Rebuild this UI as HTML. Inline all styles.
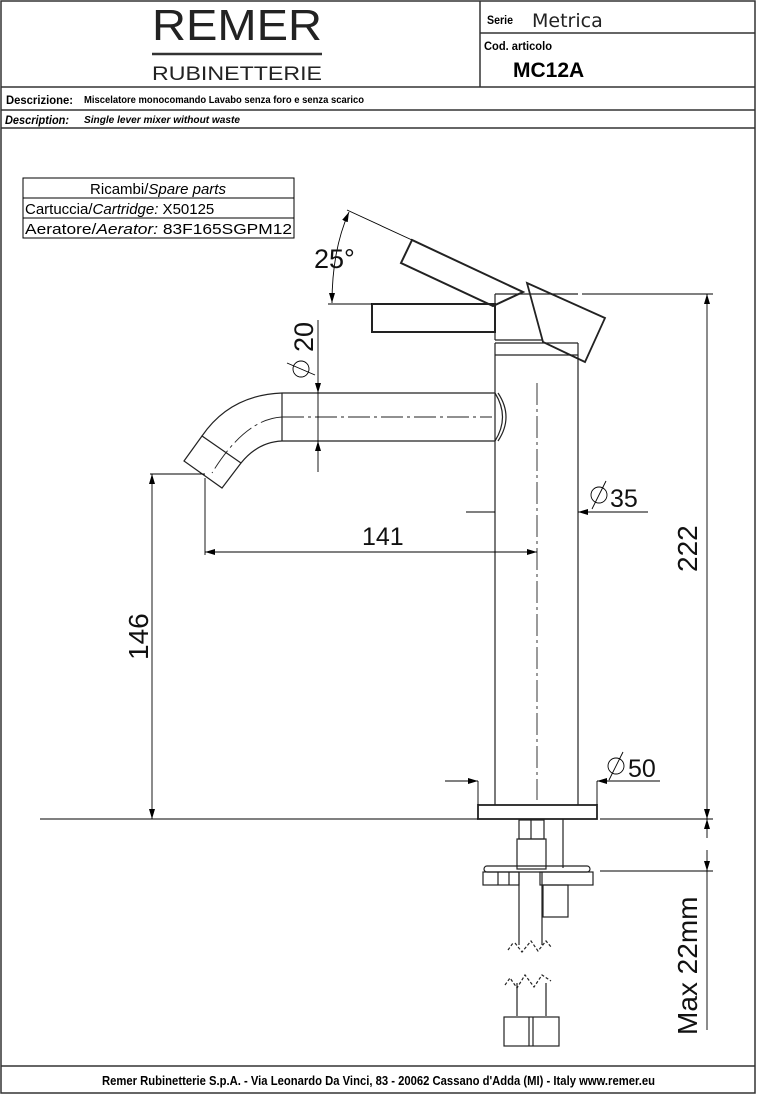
<!DOCTYPE html>
<html><head><meta charset="utf-8"><style>
html,body{margin:0;padding:0;background:#fff}
svg{display:block}
.n{font-family:"Liberation Sans",sans-serif;font-weight:bold}
.d{font-family:"Liberation Sans",sans-serif;}
</style></head><body>
<svg width="758" height="1095" viewBox="0 0 758 1095" xmlns="http://www.w3.org/2000/svg">
<defs>
<marker id="a" viewBox="0 0 10 6" refX="10" refY="3" markerWidth="10" markerHeight="6" orient="auto-start-reverse" markerUnits="userSpaceOnUse"><path d="M0,0 L10,3 L0,6 z" fill="#000"/></marker>
</defs>
<g fill="none" stroke="#333" stroke-width="1.5">
<rect x="1" y="1" width="754" height="1092"/>
<line x1="480" y1="1" x2="480" y2="87"/>
<line x1="480" y1="33" x2="755" y2="33"/>
<line x1="1" y1="87" x2="755" y2="87"/>
<line x1="1" y1="110" x2="755" y2="110"/>
<line x1="1" y1="128" x2="755" y2="128"/>
<line x1="1" y1="1066" x2="755" y2="1066"/>
<line x1="152" y1="54" x2="322" y2="54" stroke-width="2.5"/>
</g>
<text x="152" y="40" textLength="170" lengthAdjust="spacingAndGlyphs" font-family="Liberation Sans,sans-serif" font-size="44" fill="#222">REMER</text>
<text x="152" y="80" textLength="170" lengthAdjust="spacingAndGlyphs" font-family="Liberation Sans,sans-serif" font-size="19" fill="#222">RUBINETTERIE</text>
<text x="487" y="24" class="n" font-size="12" textLength="26" lengthAdjust="spacingAndGlyphs">Serie</text>
<text x="532" y="27" font-family="DejaVu Sans,sans-serif" font-size="19" fill="#222">Metrica</text>
<text x="484" y="50" class="n" font-size="12" textLength="68" lengthAdjust="spacingAndGlyphs">Cod. articolo</text>
<text x="513" y="77" font-family="Liberation Sans,sans-serif" font-weight="bold" font-size="21">MC12A</text>
<text x="6" y="104" class="n" font-size="12" textLength="67" lengthAdjust="spacingAndGlyphs">Descrizione:</text>
<text x="84" y="103" class="n" font-size="10" textLength="280" lengthAdjust="spacingAndGlyphs">Miscelatore monocomando Lavabo senza foro e senza scarico</text>
<text x="5" y="124" class="n" font-size="12" font-style="italic" textLength="64" lengthAdjust="spacingAndGlyphs">Description:</text>
<text x="84" y="123" class="n" font-size="10" font-style="italic" textLength="156" lengthAdjust="spacingAndGlyphs">Single lever mixer without waste</text>
<text x="102" y="1085" class="n" font-size="13" textLength="553" lengthAdjust="spacingAndGlyphs">Remer Rubinetterie S.p.A. - Via Leonardo Da Vinci, 83 - 20062 Cassano d'Adda (MI) - Italy www.remer.eu</text>

<g fill="none" stroke="#000" stroke-width="1">
<rect x="23" y="178" width="271" height="60"/>
<line x1="23" y1="198" x2="294" y2="198"/>
<line x1="23" y1="218" x2="294" y2="218"/>
</g>
<g class="d" font-size="15" fill="#000">
<text x="158" y="194" text-anchor="middle">Ricambi/<tspan font-style="italic">Spare parts</tspan></text>
<text x="25" y="214">Cartuccia/<tspan font-style="italic">Cartridge:</tspan>   X50125</text>
<text x="25" y="234" textLength="267" lengthAdjust="spacingAndGlyphs">Aeratore/<tspan font-style="italic">Aerator:</tspan> 83F165SGPM12</text>
</g>

<g fill="none" stroke="#222" stroke-width="1.2">
<line x1="282" y1="393" x2="495" y2="393"/>
<line x1="282" y1="441" x2="495" y2="441"/>
<line x1="282" y1="393" x2="282" y2="441"/>
<path d="M282,393 Q230,395 202,436"/>
<path d="M282,441 Q258,442 241,463"/>
<path d="M495,393 Q510,417 495,441"/>
<path d="M498,393 Q514,417 498,441"/>
<polygon points="184,461 202,436 241,463 222,488"/>
<line x1="495" y1="343" x2="495" y2="783"/>
<line x1="578" y1="343" x2="578" y2="783"/>
<line x1="495" y1="343" x2="578" y2="343"/>
<line x1="495" y1="355" x2="578" y2="355"/>
<line x1="495" y1="294" x2="578" y2="294"/>
<line x1="495" y1="294" x2="495" y2="340"/>
<line x1="495" y1="340" x2="543" y2="340"/>
<rect x="372" y="304" width="123" height="28" stroke-width="2"/>
<polygon points="412,240 401,263 493,306 523,292" stroke-width="2"/>
<polygon points="527,283 605,318 585,362 543,342" stroke-width="1.8"/>
<rect x="478" y="805" width="119" height="14" stroke-width="1.8"/>
<line x1="495" y1="783" x2="495" y2="805"/>
<line x1="578" y1="783" x2="578" y2="805"/>
<rect x="519" y="820" width="25" height="19"/>
<line x1="531" y1="820" x2="531" y2="839"/>
<rect x="517" y="839" width="29" height="30"/>
<line x1="563" y1="819" x2="563" y2="868"/>
<rect x="484" y="866" width="106" height="6" rx="3"/>
<rect x="483" y="872" width="36" height="13"/>
<line x1="498" y1="872" x2="498" y2="885"/><line x1="509" y1="872" x2="509" y2="885"/>
<rect x="540" y="872" width="53" height="13"/>
<rect x="543" y="885" width="25" height="32"/>
<line x1="519" y1="872" x2="519" y2="945"/>
<line x1="542" y1="872" x2="542" y2="945"/>
<path d="M508,950 L513,943 M515,943 L522,952 L531,941 L538,951 L546,941 L552,948" stroke-dasharray="3,2"/>
<path d="M505,985 L510,978 L517,988 L525,975 L534,987 L542,975 L551,981" stroke-dasharray="3,2"/>
<line x1="517" y1="983" x2="517" y2="1016"/>
<line x1="546" y1="983" x2="546" y2="1016"/>
<rect x="504" y="1017" width="55" height="29"/>
<line x1="529" y1="1017" x2="529" y2="1046"/><line x1="533" y1="1017" x2="533" y2="1046"/>
</g>
<g stroke="#222" stroke-width="0.9" fill="none" stroke-dasharray="22,4,3,4">
<line x1="282" y1="417" x2="492" y2="417"/>
<path d="M282,417 Q245,419 212,473"/>
<line x1="537" y1="383" x2="537" y2="800"/>
</g>
<g stroke="#000" stroke-width="0.9" fill="none">
<line x1="347" y1="210" x2="412" y2="240"/>
<path d="M349,212 Q332,250 332,303" marker-start="url(#a)" marker-end="url(#a)"/>
<line x1="328" y1="304" x2="372" y2="304"/>
<line x1="318" y1="320" x2="318" y2="393" marker-end="url(#a)"/>
<line x1="318" y1="472" x2="318" y2="441" marker-end="url(#a)"/>
<line x1="318" y1="393" x2="318" y2="441"/>
<line x1="150" y1="474" x2="205" y2="474"/>
<line x1="152" y1="819" x2="152" y2="474" marker-start="url(#a)" marker-end="url(#a)"/>
<line x1="205" y1="478" x2="205" y2="555"/>
<line x1="205" y1="552" x2="537" y2="552" marker-start="url(#a)" marker-end="url(#a)"/>
<line x1="466" y1="512" x2="495" y2="512"/>
<line x1="648" y1="512" x2="578" y2="512" marker-end="url(#a)"/>
<line x1="445" y1="781" x2="478" y2="781" marker-end="url(#a)"/>
<line x1="660" y1="781" x2="597" y2="781" marker-end="url(#a)"/>
<line x1="478" y1="781" x2="478" y2="805"/><line x1="597" y1="781" x2="597" y2="805"/>
<line x1="582" y1="294" x2="713" y2="294"/>
<line x1="707" y1="294" x2="707" y2="819" marker-start="url(#a)" marker-end="url(#a)"/>
<line x1="40" y1="819" x2="478" y2="819"/>
<line x1="600" y1="819" x2="713" y2="819"/>
<line x1="600" y1="871" x2="713" y2="871"/>
<line x1="707" y1="838" x2="707" y2="819" marker-end="url(#a)"/>
<line x1="707" y1="850" x2="707" y2="871" marker-end="url(#a)"/>
<line x1="707" y1="871" x2="707" y2="1030"/>
<circle cx="599" cy="495" r="8"/><line x1="592" y1="509" x2="606" y2="481"/>
<circle cx="616" cy="766" r="8"/><line x1="609" y1="780" x2="623" y2="752"/>
<circle cx="301" cy="369" r="8"/><line x1="287" y1="363" x2="315" y2="375"/>
</g>
<g class="d" fill="#111">
<text x="314" y="268" font-size="27">25°</text>
<text x="610" y="507" font-size="25">35</text>
<text x="628" y="777" font-size="25">50</text>
<text x="362" y="545" font-size="25">141</text>
<text transform="translate(313,352) rotate(-90)" font-size="27">20</text>
<text transform="translate(148,660) rotate(-90)" font-size="28">146</text>
<text transform="translate(697,572) rotate(-90)" font-size="28">222</text>
<text transform="translate(697,1035) rotate(-90)" font-size="28">Max 22mm</text>
</g>
</svg>
</body></html>
